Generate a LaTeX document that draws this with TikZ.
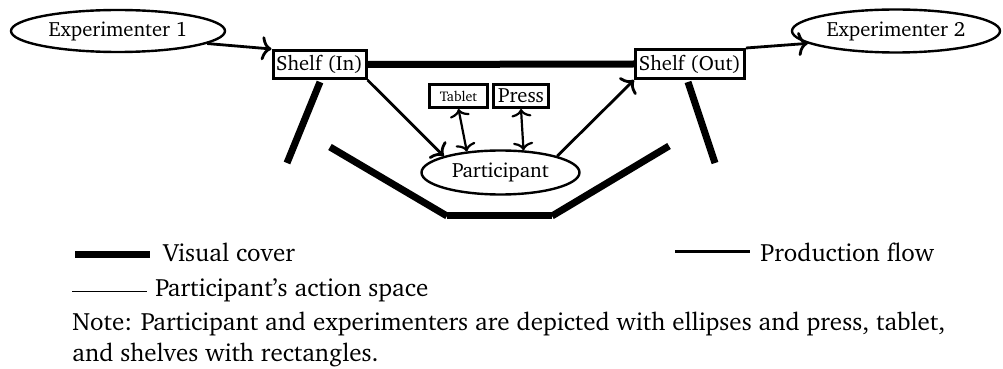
\documentclass[tikz,border=0pt]{standalone}
\usepackage[T1]{fontenc}
\usepackage{charter}
\usetikzlibrary{shapes.geometric,arrows.meta}
\begin{document}
\begin{tikzpicture}[x=0.5pt,y=-0.5pt,
  every node/.style={font=\fontsize{10.3}{12}\selectfont, inner sep=0pt},
  person/.style={draw, ellipse, line width=1.2pt},
  boxnode/.style={draw, rectangle, line width=1.5pt, fill=white},
  flow/.style={line width=1.4pt, -{Computer Modern Rightarrow[length=5pt,width=12pt]}},
  biflow/.style={line width=1.1pt, {Computer Modern Rightarrow[length=4pt,width=10pt]}-{Computer Modern Rightarrow[length=4pt,width=10pt]}},
  cover/.style={line width=3.5pt},
  legtext/.style={anchor=base west, font=\fontsize{12.5}{15.5}\selectfont}
]
\useasboundingbox (0,0) rectangle (1003,369);
% nodes
\node[person, minimum width=107pt, minimum height=21pt] (e1) at (118,31) {Experimenter 1};
\node[person, minimum width=104pt, minimum height=21.5pt] (e2) at (896,31) {Experimenter 2};
\node[boxnode, minimum width=46.5pt, minimum height=14pt] (si) at (319.5,64.5) {Shelf (In)};
\node[boxnode, minimum width=54.5pt, minimum height=14.5pt] (so) at (690,64) {Shelf (Out)};
\node[boxnode, minimum width=29pt, minimum height=11.5pt, font=\fontsize{7}{8}\selectfont] (tb) at (458.5,96) {Tablet};
\node[boxnode, minimum width=27.5pt, minimum height=11.5pt] (pr) at (521,96) {Press};
\node[person, minimum width=79pt, minimum height=22pt] (pa) at (500.5,172.5) {Participant};
% visual cover
\draw[cover] (si.east) -- (so.west);
\draw[cover] (320,82) -- (287,163);
\draw[cover] (688,82) -- (715,163);
\draw[cover] (330,147) -- (447,216);
\draw[cover] (447,216) -- (552,216);
\draw[cover] (552,216) -- (669,146);
% flows
\draw[flow] (e1.-8) -- (si.north west);
\draw[flow] (so.north east) -- (e2.188);
\draw[flow] (si.south east) -- (pa.north west);
\draw[flow] (pa.north east) -- (so.south west);
\draw[biflow] (tb.south) -- (pa.148);
\draw[biflow] (pr.south) -- (pa.44);
% legend
\draw[line width=3.5pt] (75,255) coordinate (l1a) -- (150,255) coordinate (l1b);
\node[legtext] (lt1) at (163,262) {Visual cover};
\draw[line width=1.5pt] (675,252) coordinate (l2a) -- (750,252) coordinate (l2b);
\node[legtext] (lt2) at (760,262) {Production flow};
\draw[line width=0.5pt] (72,292) coordinate (l3a) -- (147,292) coordinate (l3b);
\node[legtext] (lt3) at (155,297) {Participant's action space};
\node[legtext] (note1) at (72,330) {Note: Participant and experimenters are depicted with ellipses and press, tablet,};
\node[legtext] (note2) at (72,362) {and shelves with rectangles.};
\end{tikzpicture}
\end{document}
